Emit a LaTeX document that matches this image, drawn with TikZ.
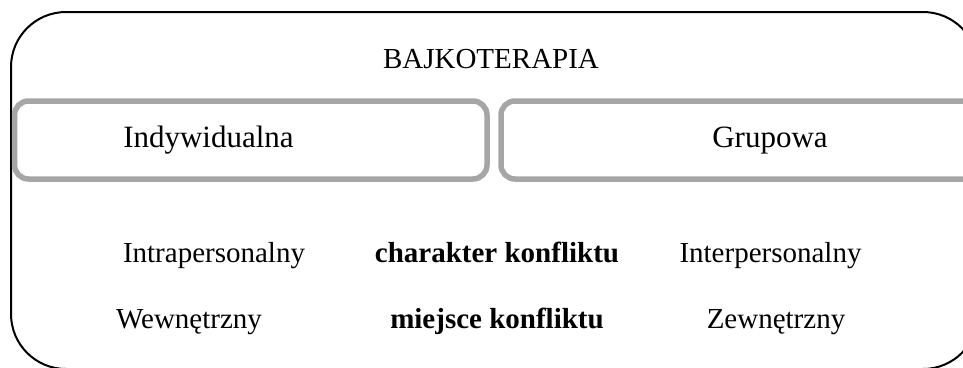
\documentclass[tikz,border=0pt]{standalone}
\usepackage{fontspec}
\setmainfont{Liberation Serif}
\usepackage{tikz}
\usetikzlibrary{positioning}
\definecolor{panelgrey}{RGB}{166,166,166}

\begin{document}
\begin{tikzpicture}[x=1pt, y=-1pt,
  txt/.style={anchor=base, inner sep=0pt, font=\fontsize{29}{34}\selectfont},
  keyword/.style={txt, font=\fontsize{29}{34}\selectfont\bfseries},
  kind/.style={anchor=base, inner sep=0pt, font=\fontsize{31}{36}\selectfont},
  panel/.style={draw=panelgrey, line width=5.5pt, rounded corners=14pt,
    minimum height=78pt, inner sep=0pt}]
  \useasboundingbox (0,0) rectangle (963,367);
  \clip (0,0) rectangle (963,367);
  % outer frame, it runs off the page on the right and at the bottom
  \draw[line width=2pt, rounded corners=55pt] (11,12) rectangle (978,369);
  \node[txt] (title) at (491,68) {BAJKOTERAPIA};
  % the two kinds of therapy
  \node[panel, minimum width=472.5pt] (indiv) at (250.75,140) {};
  \node[panel, minimum width=480pt] (group) at (741,140) {};
  \node[kind] (indivlbl) at (208.5,147) {Indywidualna};
  \node[kind] (grouplbl) at (770,147) {Grupowa};
  % rows: left, keyword, right, their x and the baseline
  \foreach \lft/\kw/\rgt/\xl/\xr/\yy/\i in {
    Intrapersonalny/charakter konfliktu/Interpersonalny/214/770.5/262/1,
    Wewnętrzny/miejsce konfliktu/Zewnętrzny/189/776/328/2
  }{
    \node[txt] (left\i) at (\xl,\yy) {\lft};
    \node[keyword] (kw\i) at (497,\yy) {\kw};
    \node[txt] (right\i) at (\xr,\yy) {\rgt};
  }
\end{tikzpicture}
\end{document}
